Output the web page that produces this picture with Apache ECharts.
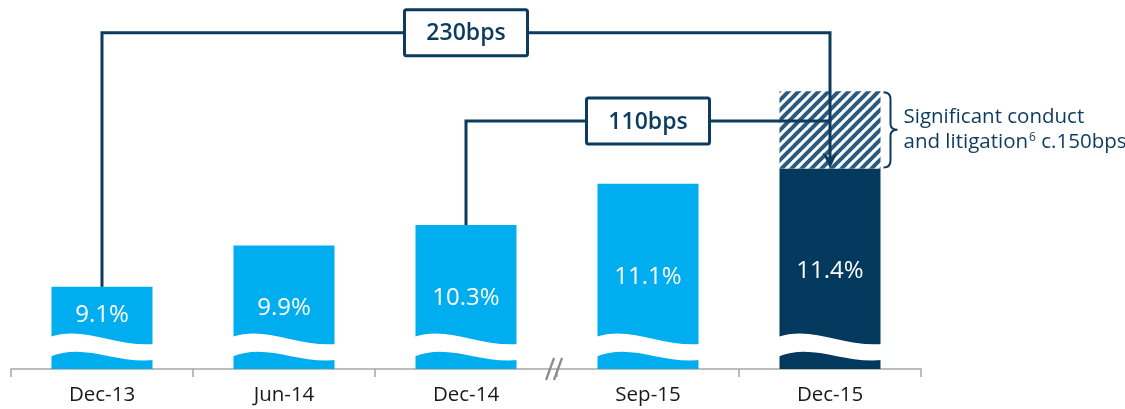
<!DOCTYPE html>
<html>
<head>
<meta charset="utf-8">
<script src="https://cdn.jsdelivr.net/npm/echarts@6/dist/echarts.min.js"></script>
<style>
  html, body { margin: 0; padding: 0; background: #fff; }
  #main { width: 1125px; height: 409px; }
</style>
</head>
<body>
<div id="main"></div>
<script>
// data
const categories = ['Dec-13', 'Jun-14', 'Dec-14', 'Sep-15', 'Dec-15'];
const ratio = [9.1, 9.9, 10.3, 11.1, 11.4];
const conduct = ['-', '-', '-', '-', 1.5];
const bracketFrom = [0, 2];
const bracketTo = [4, 4];
const bracketBox = [2, 3];
const bracketText = ['230bps', '110bps'];
const noteText = ['Significant conduct', 'and litigation', '6', ' c.150bps'];

// layout / style
const yMin = 7.5, yMax = 14.5;
const cyan = '#00aeef', navy = '#03395c', lineCol = '#0c3b5e';
const labelDy = [28, 63, 73, 93, 103];
const bracketLevel = [14.04, 12.32];
const font = 'Open Sans';

function hatch() {
  const c = document.createElement('canvas');
  c.width = 10; c.height = 10;
  const ctx = c.getContext('2d');
  ctx.fillStyle = '#fff';
  ctx.fillRect(0, 0, 10, 10);
  ctx.strokeStyle = '#2a5a80';
  ctx.lineWidth = 4;
  for (let k = -1; k <= 1; k++) {
    ctx.beginPath();
    ctx.moveTo(k * 10 - 1, 11);
    ctx.lineTo(k * 10 + 11, -1);
    ctx.stroke();
  }
  return c;
}

const myChart = echarts.init(document.getElementById('main'));

const barData = ratio.map((v, i) => ({
  value: v,
  itemStyle: { color: i === 4 ? navy : cyan },
  label: { position: ['50%', labelDy[i]] }
}));

function waveItem(params, api) {
  const p = api.coord([api.value(0), yMin]);
  const w = api.size([1, 0])[0] * 0.555 + 4;
  const x0 = p[0] - w / 2, x1 = p[0] + w / 2, b = p[1];
  const d = 'M' + x0 + ',' + (b - 32) +
    ' C' + (x0 + 0.33 * w) + ',' + (b - 44) + ' ' + (x0 + 0.62 * w) + ',' + (b - 22) + ' ' + x1 + ',' + (b - 25) +
    ' L' + x1 + ',' + (b - 9) +
    ' C' + (x0 + 0.62 * w) + ',' + (b - 5) + ' ' + (x0 + 0.33 * w) + ',' + (b - 27) + ' ' + x0 + ',' + (b - 12) + ' Z';
  return { type: 'path', shape: { pathData: d }, style: { fill: '#fff' } };
}

function bracketItem(params, api) {
  const i = params.dataIndex;
  const a = bracketFrom[i], e = bracketTo[i];
  const start = api.coord([a, ratio[a]]);
  const end = api.coord([e, ratio[e]]);
  const lvl = api.coord([a, bracketLevel[i]])[1];
  const boxX = api.coord([bracketBox[i], yMin])[0];
  const children = [];
  const pts = [[start[0], start[1]], [start[0], lvl], [end[0], lvl]];
  if (i === 0) pts.push([end[0], end[1] - 8]);
  children.push({
    type: 'polyline', shape: { points: pts },
    style: { stroke: lineCol, lineWidth: 3, fill: null }
  });
  if (i === 0) {
    const t = end[1];
    children.push({
      type: 'polygon',
      shape: { points: [[end[0] - 7.5, t - 16], [end[0], t - 10], [end[0] + 7.5, t - 16], [end[0], t]] },
      style: { fill: lineCol }
    });
  }
  children.push({
    type: 'rect',
    shape: { x: boxX - 61.5, y: lvl - 23, width: 123, height: 46, r: 2 },
    style: { fill: '#fff', stroke: lineCol, lineWidth: 3 }
  });
  children.push({
    type: 'text',
    style: {
      x: boxX, y: lvl + 1, text: bracketText[i], align: 'center', verticalAlign: 'middle',
      fill: lineCol, fontSize: 23, fontWeight: 600, fontFamily: font
    }
  });
  return { type: 'group', children: children };
}

function braceItem(params, api) {
  const top = api.coord([4, ratio[4] + conduct[4]]);
  const bot = api.coord([4, ratio[4]]);
  const w = api.size([1, 0])[0] * 0.555;
  const x0 = top[0] + w / 2 + 3;
  const y0 = top[1] + 1, y1 = bot[1] - 1, m = (y0 + y1) / 2;
  const d = 'M' + x0 + ',' + y0 + ' Q' + (x0 + 7) + ',' + y0 + ' ' + (x0 + 7) + ',' + (y0 + 7) +
    ' L' + (x0 + 7) + ',' + (m - 6) + ' Q' + (x0 + 7) + ',' + m + ' ' + (x0 + 14) + ',' + m +
    ' Q' + (x0 + 7) + ',' + m + ' ' + (x0 + 7) + ',' + (m + 6) +
    ' L' + (x0 + 7) + ',' + (y1 - 7) + ' Q' + (x0 + 7) + ',' + y1 + ' ' + x0 + ',' + y1;
  return {
    type: 'group',
    children: [
      { type: 'path', shape: { pathData: d }, style: { stroke: lineCol, lineWidth: 2, fill: null } },
      {
        type: 'text',
        style: {
          x: x0 + 20, y: m, verticalAlign: 'middle', align: 'left',
          text: noteText[0] + '\n{n|' + noteText[1] + '}{s|' + noteText[2] + '}{n|' + noteText[3] + '}',
          fill: lineCol, fontSize: 20.5, fontFamily: font, lineHeight: 25,
          rich: {
            n: { fontSize: 20.5, fontFamily: font, fill: lineCol, lineHeight: 25 },
            s: { fontSize: 12, fontFamily: font, fill: lineCol, padding: [0, 0, 9, 1], lineHeight: 25 }
          }
        }
      }
    ]
  };
}

function breakItem(params, api) {
  const a = api.coord([2, yMin]), b = api.coord([3, yMin]);
  const x = (a[0] + b[0]) / 2, y = a[1];
  const s = { stroke: '#8a8a8a', lineWidth: 2.2 };
  return {
    type: 'group',
    children: [
      { type: 'line', shape: { x1: x - 11, y1: y + 11, x2: x - 3, y2: y - 11 }, style: s },
      { type: 'line', shape: { x1: x - 3, y1: y + 11, x2: x + 5, y2: y - 11 }, style: s }
    ]
  };
}

const option = {
  animation: false,
  grid: { left: 11, right: 204, top: 9, bottom: 40 },
  xAxis: {
    type: 'category',
    data: categories,
    axisLine: { lineStyle: { color: '#a6a6a6', width: 1.5 } },
    axisTick: { show: true, length: 8, lineStyle: { color: '#a6a6a6', width: 1.5 } },
    axisLabel: { color: '#1a1a1a', fontSize: 20.5, fontFamily: font, margin: 16 }
  },
  yAxis: { type: 'value', min: yMin, max: yMax, show: false, splitLine: { show: false } },
  series: [
    {
      name: 'CET1', type: 'bar', stack: 'a', barWidth: '55.5%',
      data: barData,
      label: {
        show: true, color: '#fff', fontSize: 24, fontFamily: font,
        align: 'center', verticalAlign: 'middle',
        formatter: p => p.value.toFixed(1) + '%'
      }
    },
    {
      name: 'Conduct', type: 'bar', stack: 'a', barWidth: '55.5%',
      data: conduct,
      itemStyle: { color: { image: hatch(), repeat: 'repeat' } }
    },
    {
      type: 'custom', renderItem: waveItem, clip: false, z: 3,
      data: categories.map((c, i) => [i, yMin])
    },
    {
      type: 'custom', renderItem: breakItem, clip: false, z: 4,
      data: [[2, yMin]]
    },
    {
      type: 'custom', renderItem: bracketItem, clip: false, z: 5,
      data: bracketText.map((t, i) => [bracketFrom[i], bracketLevel[i]])
    },
    {
      type: 'custom', renderItem: braceItem, clip: false, z: 5,
      data: [[4, ratio[4]]]
    }
  ]
};

myChart.setOption(option);
</script>
</body>
</html>
